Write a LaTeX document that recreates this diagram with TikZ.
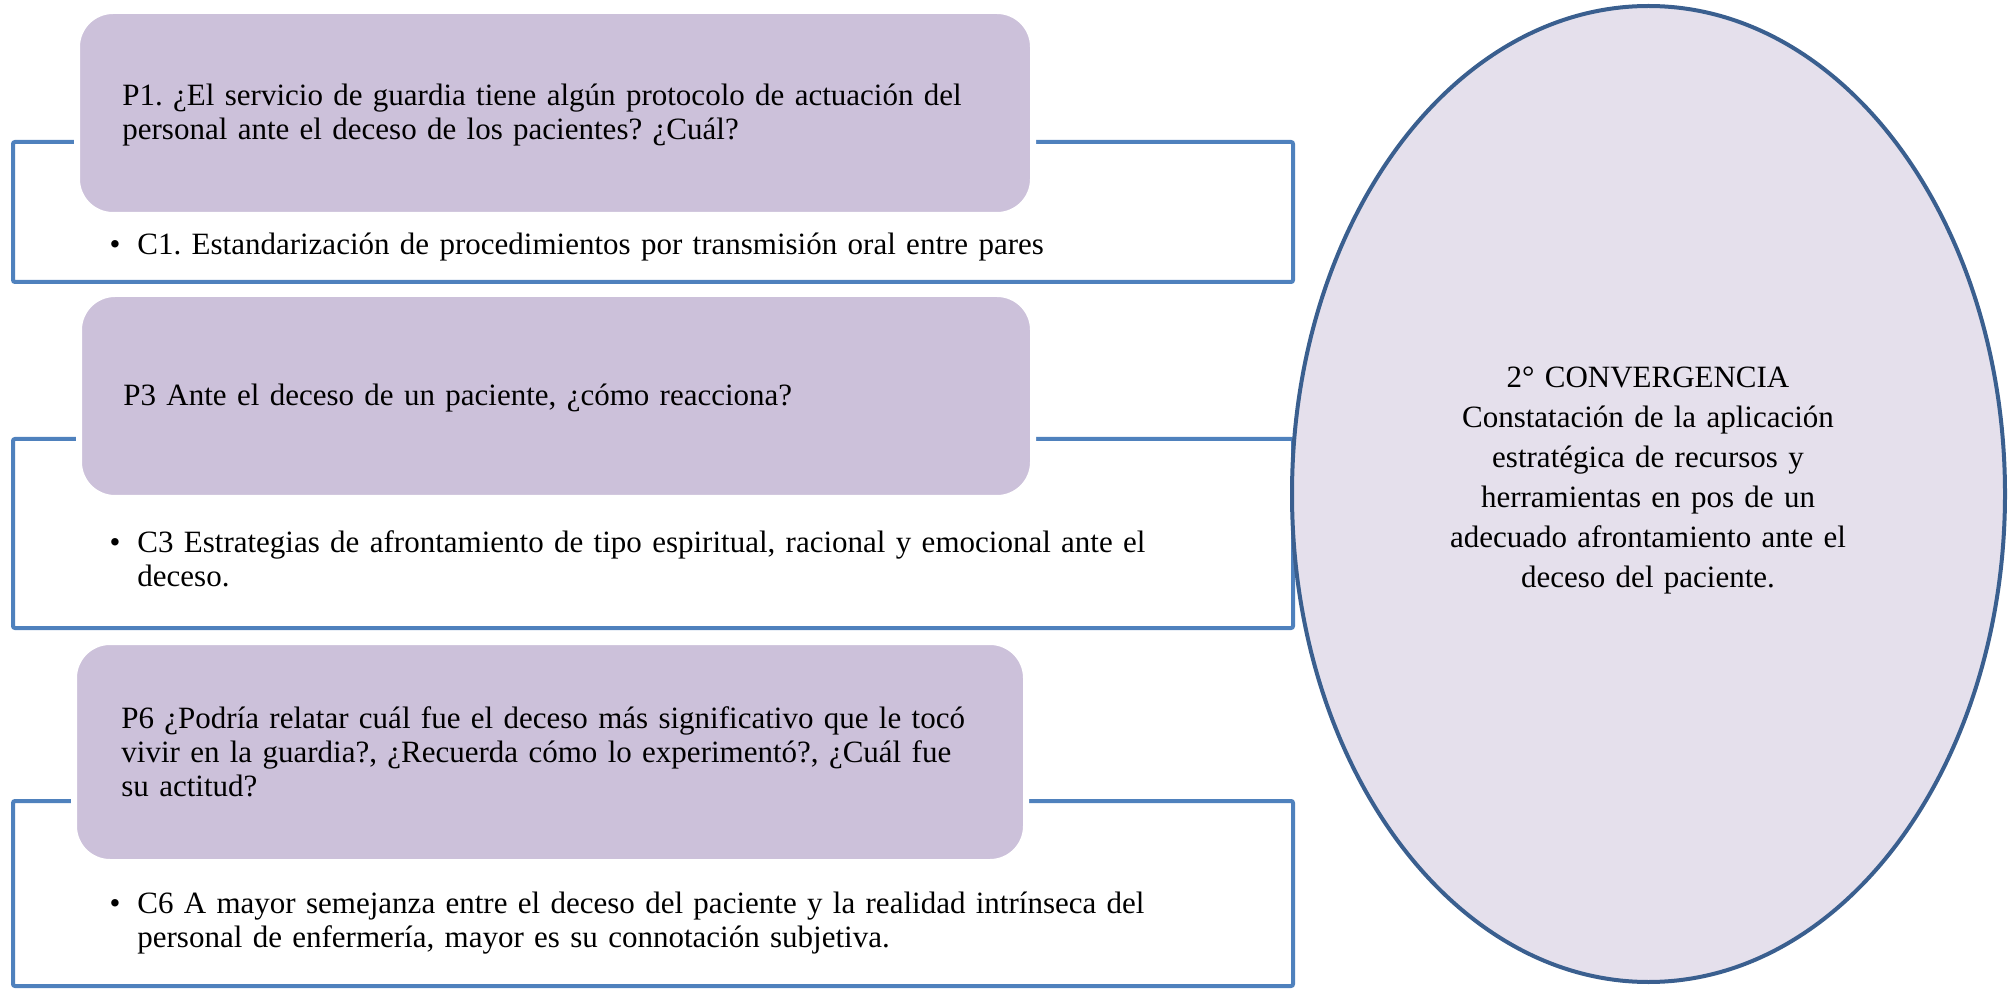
\documentclass[tikz,border=0pt]{standalone}
\usepackage{fontspec}
\setmainfont{Liberation Serif}
\usetikzlibrary{shapes.geometric}
\definecolor{frameblue}{HTML}{4F81BD}
\definecolor{ellblue}{HTML}{3A5F8F}
\definecolor{qfill}{HTML}{CCC1DA}
\definecolor{efill}{HTML}{E5E0EC}
\frenchspacing
\tikzset{
  framebox/.style={draw=frameblue, line width=2pt, rounded corners=1pt, inner sep=0pt, minimum width=640pt},
  qbox/.style={fill=qfill, draw=white, line width=3pt, rounded corners=18pt, inner sep=0pt},
  qtext/.style={anchor=north west, inner sep=0pt, align=left, text width=470pt,
    font=\fontsize{15.5}{17}\selectfont},
  ctext/.style={anchor=north west, inner sep=0pt, align=left, text width=560pt,
    font=\fontsize{15.5}{17}\selectfont},
  conv/.style={ellipse, fill=efill, draw=ellblue, line width=2pt, inner sep=0pt,
    minimum width=356.5pt, minimum height=488pt},
  convtext/.style={anchor=north, inner sep=0pt, align=center, text width=230pt,
    font=\fontsize{15.5}{20}\selectfont}
}
\newcommand{\bul}{\llap{•\hspace{8.5pt}}}
\begin{document}
\begin{tikzpicture}[x=0.5pt, y=-0.5pt]
\useasboundingbox (0,0) rectangle (2008,989);
% frames
\node[framebox, minimum height=70pt] (f1) at (653,212) {};
\node[framebox, minimum height=94.5pt] (f2) at (653,533.5) {};
\node[framebox, minimum height=92.5pt] (f3) at (653,893.5) {};
% question boxes
\node[qbox, minimum width=478pt, minimum height=102pt] (q1) at (555,113) {};
\node[qbox, minimum width=477pt, minimum height=102pt] (q3) at (556,396) {};
\node[qbox, minimum width=476pt, minimum height=110pt] (q6) at (550,752) {};
% texts
\node[qtext] (t1) at (122,81) {\strut P1. ¿El servicio de guardia tiene algún protocolo de actuación del\\ personal ante el deceso de los pacientes? ¿Cuál?};
\node[ctext] (c1) at (137,230) {\strut\bul C1. Estandarización de procedimientos por transmisión oral entre pares};
\node[qtext] (t3) at (123,381) {\strut P3 Ante el deceso de un paciente, ¿cómo reacciona?};
\node[ctext] (c3) at (137,528) {\strut\bul C3 Estrategias de afrontamiento de tipo espiritual, racional y emocional ante el\\ deceso.};
\node[qtext] (t6) at (121,704) {\strut P6 ¿Podría relatar cuál fue el deceso más significativo que le tocó\\ vivir en la guardia?, ¿Recuerda cómo lo experimentó?, ¿Cuál fue\\ su actitud?};
\node[ctext] (c6) at (137,889) {\strut\bul C6 A mayor semejanza entre el deceso del paciente y la realidad intrínseca del\\ personal de enfermería, mayor es su connotación subjetiva.};
% convergence ellipse
\node[conv] (e) at (1648.5,494) {};
\node[convtext] (et) at (1648,359) {\strut 2° CONVERGENCIA\\ Constatación de la aplicación\\ estratégica de recursos y\\ herramientas en pos de un\\ adecuado afrontamiento ante el\\ deceso del paciente.};
\end{tikzpicture}
\end{document}
